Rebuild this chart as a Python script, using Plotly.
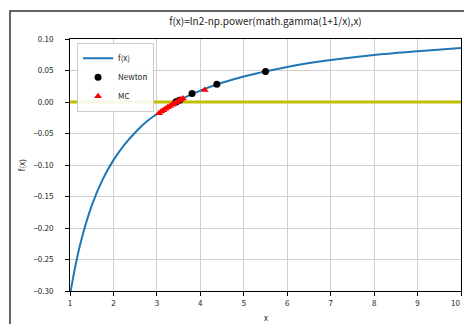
import plotly.graph_objects as go

# curve values
curve_x = [1.0, 1.1, 1.25, 1.5, 1.75, 2.0, 2.25, 2.5, 2.75, 3.0, 3.5, 4.0, 4.5, 5.0, 6.0, 7.0, 8.0, 9.0, 10.0]
curve_y = [-0.307, -0.2685, -0.2219, -0.1646, -0.1232, -0.0923, -0.0681, -0.0484, -0.0318, -0.0190,
           0.0023, 0.0181, 0.0305, 0.0405, 0.0557, 0.0665, 0.0747, 0.0805, 0.0856]

newton_x = [5.5, 4.38, 3.81, 3.52, 3.445, 3.441]
newton_y = [0.0485, 0.0283, 0.0135, 0.0029, 0.0002, 0.0]

mc_x = [3.05, 3.1, 3.15, 3.2, 3.25, 3.3, 3.35, 3.4, 3.45, 3.5, 3.55, 3.6, 4.1]
mc_y = [-0.0180, -0.0152, -0.0130, -0.0108, -0.0085, -0.0062, -0.0042, -0.0022, -0.0002, 0.0020, 0.0038, 0.0055, 0.0190]

x_ticks = [1, 2, 3, 4, 5, 6, 7, 8, 9, 10]
y_ticks = [0.10, 0.05, 0.00, -0.05, -0.10, -0.15, -0.20, -0.25, -0.30]

FONT = "Noto Sans CJK SC, DejaVu Sans, sans-serif"

fig = go.Figure()
fig.add_trace(go.Scatter(x=curve_x, y=curve_y, mode="lines", name="f(x)",
                         line=dict(color="#1f77b4", width=2, shape="spline")))
fig.add_trace(go.Scatter(x=[1, 10], y=[0, 0], mode="lines", showlegend=False,
                         line=dict(color="#bfbf00", width=3)))
fig.add_trace(go.Scatter(x=newton_x, y=newton_y, mode="markers", name="Newton",
                         marker=dict(color="black", size=7, symbol="circle")))
fig.add_trace(go.Scatter(x=mc_x, y=mc_y, mode="markers", name="MC",
                         marker=dict(color="red", size=7, symbol="triangle-up")))

axis_common = dict(showgrid=True, gridcolor="#d0d0d0", gridwidth=1, showline=True, linecolor="black",
                   linewidth=1, mirror=True, ticks="outside", ticklen=4, tickcolor="black",
                   zeroline=False, tickfont=dict(size=8, color="#222"))
fig.update_layout(
    width=464, height=324,
    margin=dict(l=70, r=3, t=39, b=33, autoexpand=False),
    paper_bgcolor="white", plot_bgcolor="white",
    font=dict(family=FONT, size=9, color="#222"),
    title=dict(text="f(x)=ln2-np.power(math.gamma(1+1/x),x)", x=0.5, xanchor="center",
               xref="paper", y=0.935, yanchor="middle", font=dict(size=10)),
    xaxis=dict(range=[1, 10], tickvals=x_ticks, **axis_common),
    yaxis=dict(range=[-0.30, 0.10], tickvals=y_ticks, tickformat=".2f", ticklabelstandoff=10, **axis_common),
    legend=dict(x=0.018, y=0.985, xanchor="left", yanchor="top", bgcolor="rgba(255,255,255,0.9)",
                bordercolor="#ccc", borderwidth=1, font=dict(size=8), itemwidth=30, tracegroupgap=0),
    showlegend=True,
)
fig.add_annotation(text="f(x)", xref="paper", yref="paper", x=-0.125, y=0.5, textangle=-90,
                   showarrow=False, xanchor="center", yanchor="middle", font=dict(size=8))
fig.add_annotation(text="x", xref="paper", yref="paper", x=0.5, y=-0.107,
                   showarrow=False, xanchor="center", yanchor="middle", font=dict(size=8))
# last x tick label, kept inside the right edge
fig.add_annotation(text=str(x_ticks[-1]), xref="x", yref="paper", x=x_ticks[-1], y=-0.045,
                   showarrow=False, xanchor="right", yanchor="middle", xshift=1,
                   font=dict(size=8, color="#222"))
# outer figure frame
fig.add_shape(type="rect", xref="paper", yref="paper", x0=-0.1535, x1=2, y0=-1, y1=1.111,
              line=dict(color="#333", width=1.5), fillcolor="rgba(0,0,0,0)", layer="above")

fig.write_html("out.html", config={"displayModeBar": False},
               post_script="document.body.style.margin='0px';")
